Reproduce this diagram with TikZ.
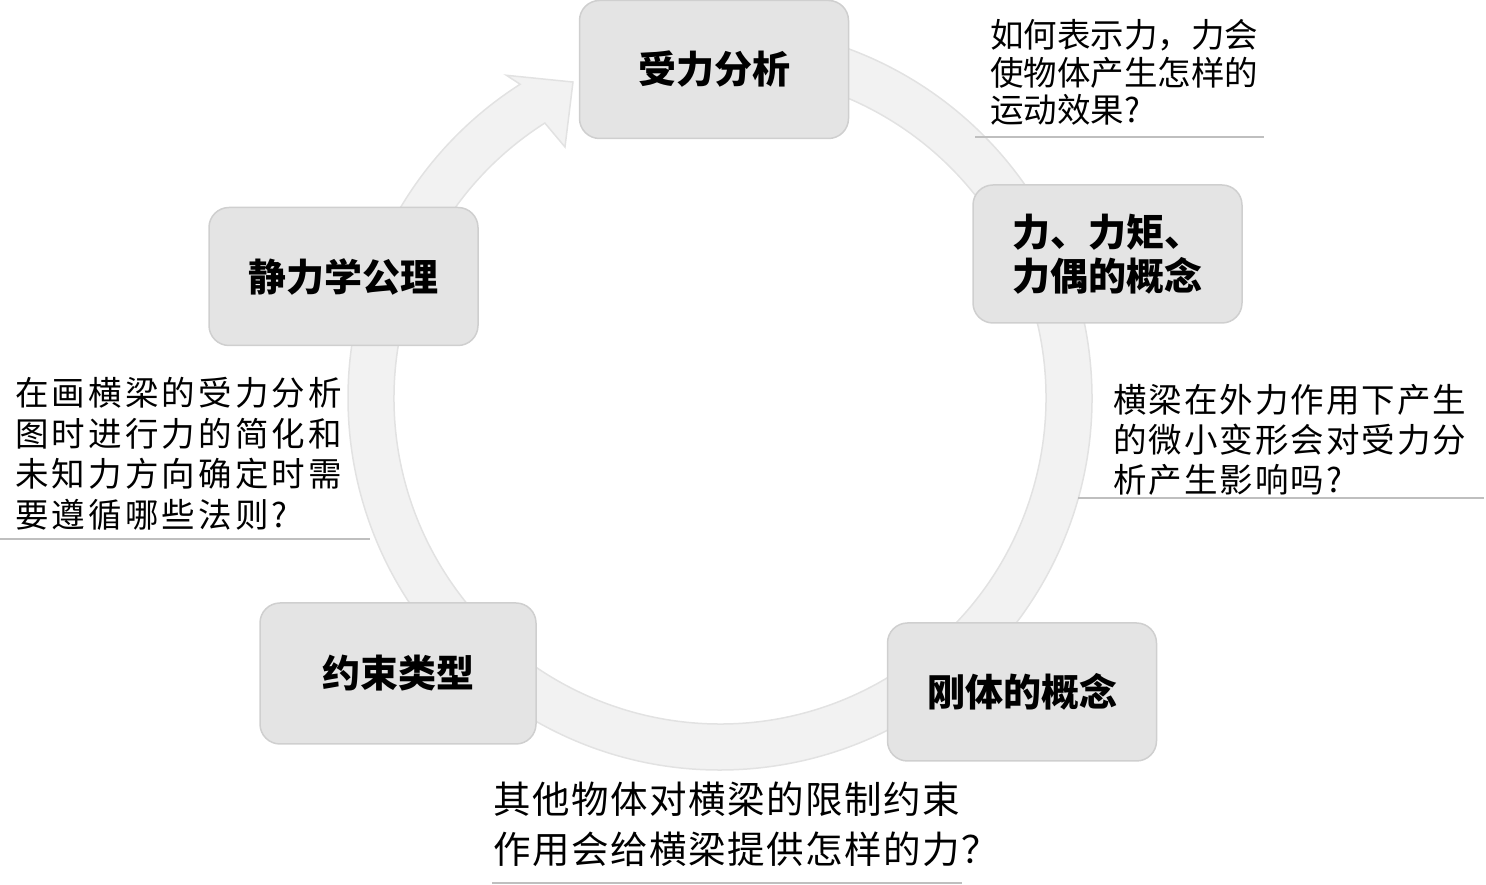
\documentclass[tikz,border=0pt]{standalone}
\usepackage{fontspec}
\newfontfamily\cjk{Noto Sans CJK SC}
\newfontfamily\cjkA{Noto Sans CJK SC}
\newfontfamily\cjkB{Noto Sans CJK SC}[LetterSpace=6]
\newfontfamily\cjkC{Noto Sans CJK SC}[LetterSpace=9.5]
\newfontfamily\cjkD{Noto Sans CJK SC}[LetterSpace=4]
\definecolor{ringfill}{HTML}{F2F2F2}
\definecolor{ringedge}{HTML}{E2E2E2}
\definecolor{boxfill}{HTML}{E4E4E4}
\definecolor{boxedge}{HTML}{CFCFCF}
\definecolor{rulegray}{HTML}{BFBFBF}
\tikzset{
  topic/.style={draw=boxedge, fill=boxfill, line width=1.5pt, rounded corners=20pt,
    minimum width=269pt, minimum height=138pt, inner sep=0pt, align=center,
    font=\cjk\bfseries\fontsize{38}{44}\selectfont, text=black},
  ringstyle/.style={fill=ringfill, draw=ringedge, line width=1.5pt},
  note/.style={anchor=base west, inner sep=0pt, align=left, text=black},
  rule/.style={draw=rulegray, line width=2pt}
}
\begin{document}
\begin{tikzpicture}[x=1pt,y=1pt]
\useasboundingbox (0,0) rectangle (1486,885);
% ring with arrow
\begin{scope}[shift={(720,487)}]
\filldraw[ringstyle] (95:372) arc[start angle=95, end angle=-237.5, radius=372]
  -- (-236.5:387) -- (-245.05:348.5) -- (-238.3:295) -- (-237.5:326)
  arc[start angle=-237.5, end angle=95, radius=326] -- cycle;
\end{scope}
% topic boxes
\node[topic] (t1) at (714,815.5) {受力分析};
\node[topic] (t2) at (1107.5,631) {力、力矩、\\力偶的概念};
\node[topic] (t3) at (1022,193) {刚体的概念};
\node[topic, minimum width=276pt, minimum height=141pt] (t4) at (398,211.5) {约束类型};
\node[topic] (t5) at (343.5,608.5) {静力学公理};
% notes (anchor = baseline of last line)
\node[note, font=\cjkA\fontsize{33.5}{37.5}\selectfont] (n1) at (990,762.3)
  {如何表示力，力会\\使物体产生怎样的\\运动效果?};
\node[note, font=\cjkB\fontsize{33.5}{40}\selectfont] (n2) at (1113,392.3)
  {横梁在外力作用下产生\\的微小变形会对受力分\\析产生影响吗?};
\node[note, font=\cjkC\fontsize{33.5}{40.7}\selectfont] (n3) at (15,357.3)
  {在画横梁的受力分析\\图时进行力的简化和\\未知力方向确定时需\\要遵循哪些法则?};
\node[note, font=\cjkD\fontsize{37.5}{49.5}\selectfont] (n4) at (493,21.75)
  {其他物体对横梁的限制约束\\作用会给横梁提供怎样的力？};
% rules
\coordinate (r1a) at (975,748); \coordinate (r1b) at (1264,748);
\coordinate (r2a) at (1078,387); \coordinate (r2b) at (1484,387);
\coordinate (r3a) at (0,346); \coordinate (r3b) at (370,346);
\coordinate (r4a) at (492,2); \coordinate (r4b) at (962,2);
\draw[rule] (r1a) -- (r1b);
\draw[rule] (r2a) -- (r2b);
\draw[rule] (r3a) -- (r3b);
\draw[rule] (r4a) -- (r4b);
\end{tikzpicture}
\end{document}
